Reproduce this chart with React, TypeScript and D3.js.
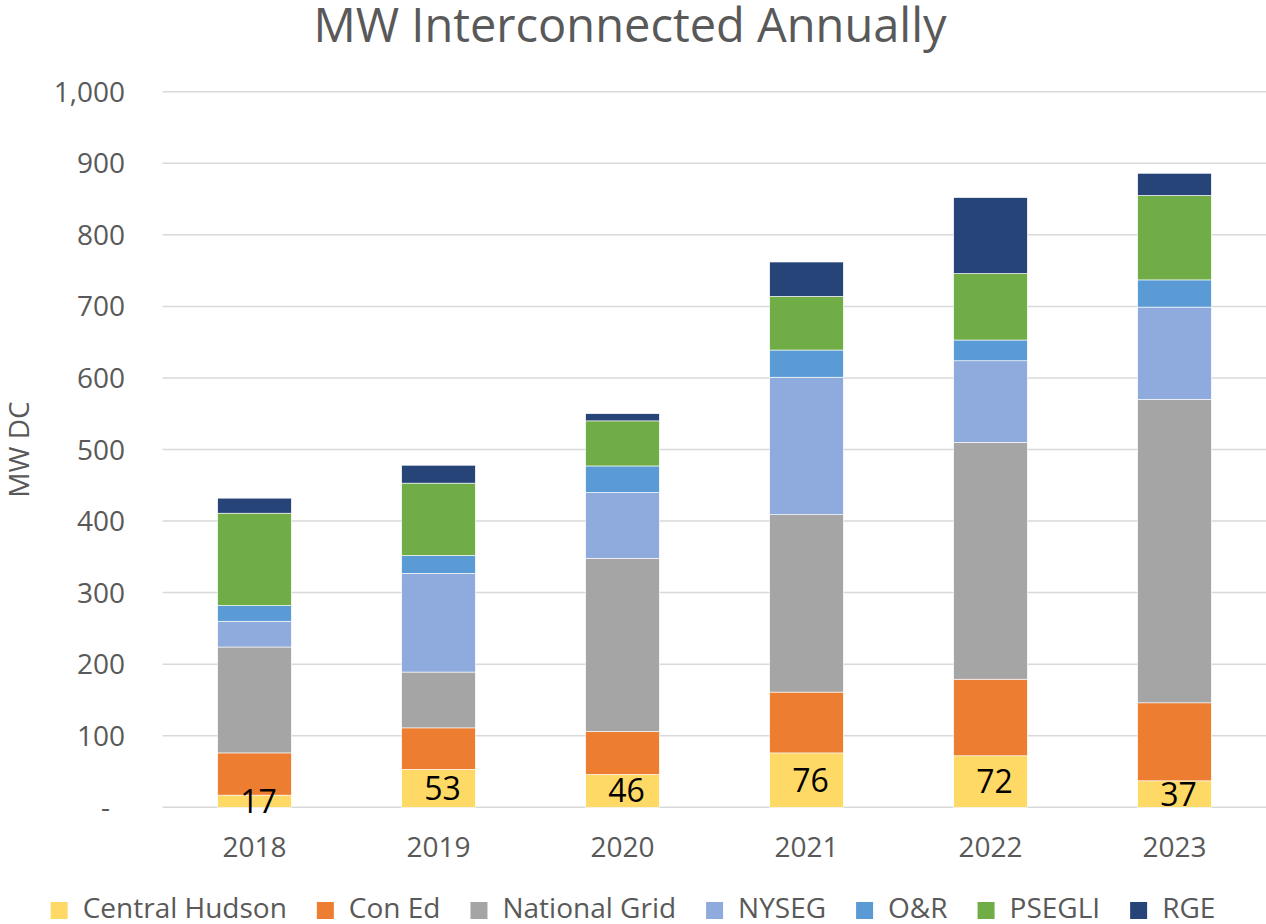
import React, { useEffect, useRef } from 'react';
import * as d3 from 'd3';

const years = ['2018', '2019', '2020', '2021', '2022', '2023'];
const utilities = ['Central Hudson', 'Con Ed', 'National Grid', 'NYSEG', 'O&R', 'PSEGLI', 'RGE'];
const centralHudson = [17, 53, 46, 76, 72, 37];
const conEd = [59, 58, 60, 85, 107, 109];
const nationalGrid = [148, 78, 242, 248, 331, 424];
const nyseg = [36, 138, 92, 192, 114, 129];
const oAndR = [22, 25, 37, 38, 29, 38];
const psegli = [129, 101, 63, 75, 93, 118];
const rge = [21, 25, 10, 48, 106, 31];
const colors = ['#FFD966', '#ED7D31', '#A5A5A5', '#8FAADC', '#5B9BD5', '#70AD47', '#264478'];
const yTicks = [0, 100, 200, 300, 400, 500, 600, 700, 800, 900, 1000];

const width = 1266;
const height = 924;
const font = '"Open Sans", sans-serif';
const textColor = '#595959';

const App: React.FC = () => {
  const svgRef = useRef(null);

  useEffect(() => {
    if (svgRef.current === null) {
      return;
    }
    const svg = d3.select(svgRef.current);
    svg.selectAll('*').remove();

    const series = [centralHudson, conEd, nationalGrid, nyseg, oAndR, psegli, rge];
    const rows = years.map((year, i) => {
      const row: any = { year };
      utilities.forEach((u, j) => (row[u] = series[j][i]));
      return row;
    });
    const stacked = d3.stack().keys(utilities)(rows);

    const x = d3.scaleBand().domain(years).range([162.5, 1266.5]).paddingInner(0.6).paddingOuter(0.3);
    const y = d3.scaleLinear().domain([0, 1000]).range([807.3, 91.7]);

    // title
    svg
      .append('text')
      .attr('x', 630)
      .attr('y', 42)
      .attr('text-anchor', 'middle')
      .style('font', `47px ${font}`)
      .style('fill', textColor)
      .text('MW Interconnected Annually');

    // gridlines
    svg
      .append('g')
      .selectAll('line')
      .data(yTicks)
      .join('line')
      .attr('x1', 162.5)
      .attr('x2', width)
      .attr('y1', (d) => y(d))
      .attr('y2', (d) => y(d))
      .attr('stroke', '#D9D9D9')
      .attr('stroke-width', 1.5);

    // y tick labels, zero shown as accounting dash
    svg
      .append('g')
      .selectAll('text')
      .data(yTicks)
      .join('text')
      .attr('x', (d) => (d === 0 ? 110 : 125))
      .attr('y', (d) => y(d))
      .attr('dy', '0.36em')
      .attr('text-anchor', 'end')
      .style('font', `28px ${font}`)
      .style('fill', textColor)
      .text((d) => (d === 0 ? '-' : d3.format(',')(d)));

    // y axis title
    svg
      .append('text')
      .attr('transform', `translate(29,${(y(0) + y(1000)) / 2}) rotate(-90)`)
      .attr('text-anchor', 'middle')
      .style('font', `28px ${font}`)
      .style('fill', textColor)
      .text('MW DC');

    // bars
    svg
      .append('g')
      .selectAll('g')
      .data(stacked)
      .join('g')
      .attr('fill', (d, i) => colors[i])
      .selectAll('rect')
      .data((d) => d)
      .join('rect')
      .attr('x', (d: any) => x(d.data.year) as number)
      .attr('width', x.bandwidth())
      .attr('y', (d) => y(d[1]))
      .attr('height', (d) => y(d[0]) - y(d[1]))
      .attr('stroke', '#ffffff')
      .attr('stroke-width', 0.6);

    // data labels (Central Hudson only)
    svg
      .append('g')
      .selectAll('text')
      .data(stacked[0])
      .join('text')
      .attr('x', (d: any) => (x(d.data.year) as number) + x.bandwidth() / 2 + 4)
      .attr('y', (d) => (y(d[0]) + y(d[1])) / 2)
      .attr('dy', '0.36em')
      .attr('text-anchor', 'middle')
      .style('font', `32px ${font}`)
      .style('fill', '#000000')
      .text((d) => String(d[1] - d[0]));

    // x labels
    svg
      .append('g')
      .selectAll('text')
      .data(years)
      .join('text')
      .attr('x', (d) => (x(d) as number) + x.bandwidth() / 2)
      .attr('y', 857)
      .attr('text-anchor', 'middle')
      .style('font', `28px ${font}`)
      .style('fill', textColor)
      .text((d) => d);

    // legend
    const legend = svg.append('g');
    const items = legend
      .selectAll('g')
      .data(utilities)
      .join('g');
    items
      .append('rect')
      .attr('y', 902)
      .attr('width', 17)
      .attr('height', 17)
      .attr('fill', (d, i) => colors[i]);
    const labels = items
      .append('text')
      .attr('x', 32)
      .attr('y', 918)
      .style('font', `28px ${font}`)
      .style('fill', textColor)
      .text((d) => d);

    const widths: number[] = [];
    labels.each(function () {
      widths.push((this as SVGTextElement).getComputedTextLength());
    });
    const itemWidths = widths.map((w) => 32 + w);
    const gap = 30;
    const total = d3.sum(itemWidths) + gap * (itemWidths.length - 1);
    let cursor = 633 - total / 2;
    const offsets = itemWidths.map((w) => {
      const o = cursor;
      cursor += w + gap;
      return o;
    });
    items.attr('transform', (d, i) => `translate(${offsets[i]},0)`);
  }, []);

  return (
    <svg
      ref={svgRef}
      width={width}
      height={height}
      style={{ position: 'absolute', left: 0, top: 0, display: 'block', background: '#fff' }}
    ></svg>
  );
};

export default App;
